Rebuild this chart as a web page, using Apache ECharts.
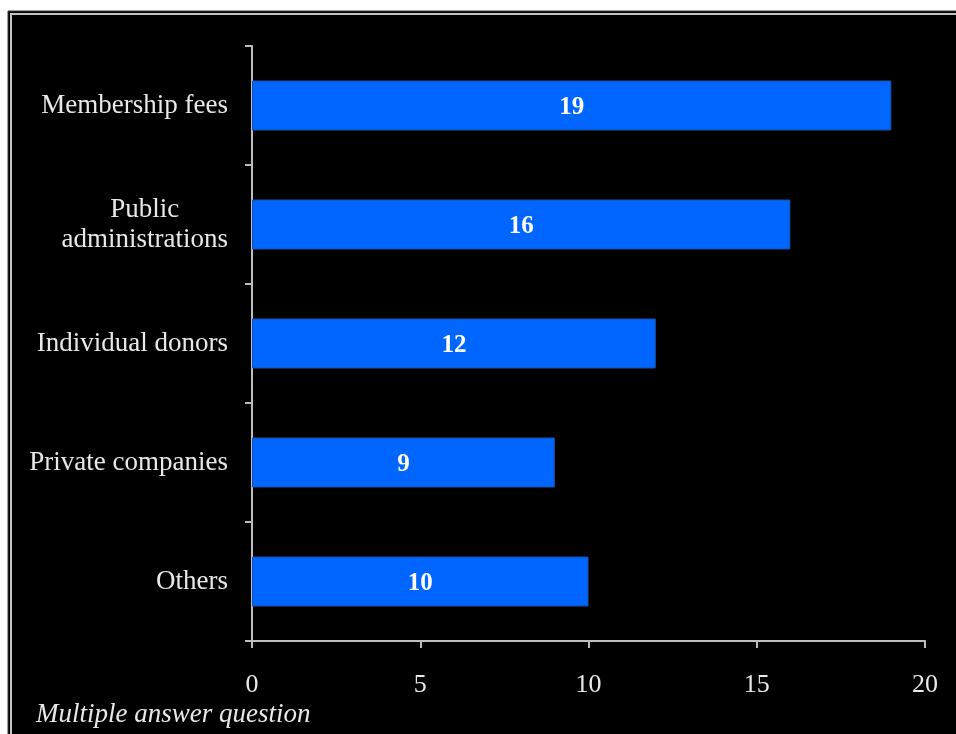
<!DOCTYPE html>
<html>
<head>
<meta charset="utf-8">
<style>
  html, body { margin: 0; padding: 0; background: #ffffff; }
  #chart { width: 956px; height: 734px; }
</style>
<script src="https://cdn.jsdelivr.net/npm/echarts@6/dist/echarts.min.js"></script>
</head>
<body>
<div id="chart"></div>
<script>
// Funding sources (bottom-to-top order for the category axis)
const categories = ['Others', 'Private companies', 'Individual donors', 'Public\nadministrations', 'Membership fees'];
const counts = [10, 9, 12, 16, 19];
const xTicks = [0, 5, 10, 15, 20];
const footnote = 'Multiple answer question';

const SERIF = '"Liberation Serif", "Times New Roman", serif';
const TEXT = '#e8e8e8';
const AXIS = '#bdbdbd';

const chart = echarts.init(document.getElementById('chart'), null, { renderer: 'canvas' });

// Each line of a category label is centred inside the right-aligned label block
function catLabel(value) {
  return value.split('\n').map(function (line) { return '{c|' + line + '}'; }).join('\n');
}

chart.setOption({
  backgroundColor: '#ffffff',
  animation: false,
  graphic: [
    // dark panel with a double frame line on its top and left edges
    { type: 'rect', z: -10, shape: { x: 8, y: 11, width: 960, height: 740 }, style: { fill: '#000000', stroke: '#3a3a3a', lineWidth: 1 } },
    { type: 'polyline', z: -9, shape: { points: [[11, 740], [11, 14], [960, 14]] }, style: { stroke: '#c4c4c4', lineWidth: 2, fill: null } },
    { type: 'text', left: 36, top: 701, style: { text: footnote, fill: TEXT, font: 'italic 27px ' + SERIF } }
  ],
  grid: { left: 252, right: 31, top: 46, bottom: 93, containLabel: false },
  xAxis: {
    type: 'value',
    min: xTicks[0],
    max: xTicks[xTicks.length - 1],
    interval: 5,
    splitLine: { show: false },
    axisLine: { show: true, lineStyle: { color: AXIS, width: 2 } },
    axisTick: { show: true, length: 7, lineStyle: { color: AXIS, width: 2 } },
    axisLabel: { color: TEXT, fontFamily: SERIF, fontSize: 26, margin: 31 }
  },
  yAxis: {
    type: 'category',
    data: categories,
    axisLine: { show: true, lineStyle: { color: AXIS, width: 2 } },
    axisTick: { show: true, length: 7, lineStyle: { color: AXIS, width: 2 } },
    axisLabel: {
      margin: 24,
      formatter: catLabel,
      rich: { c: { align: 'center', color: TEXT, fontFamily: SERIF, fontSize: 27, lineHeight: 30 } }
    }
  },
  series: [{
    type: 'bar',
    data: counts,
    barWidth: 50,
    itemStyle: { color: '#0066ff', borderColor: '#1d4fa6', borderWidth: 1 },
    label: {
      show: true,
      position: 'inside',
      offset: [0, 2],
      color: '#ffffff',
      fontFamily: SERIF,
      fontWeight: 'bold',
      fontSize: 25
    }
  }]
});
</script>
</body>
</html>
